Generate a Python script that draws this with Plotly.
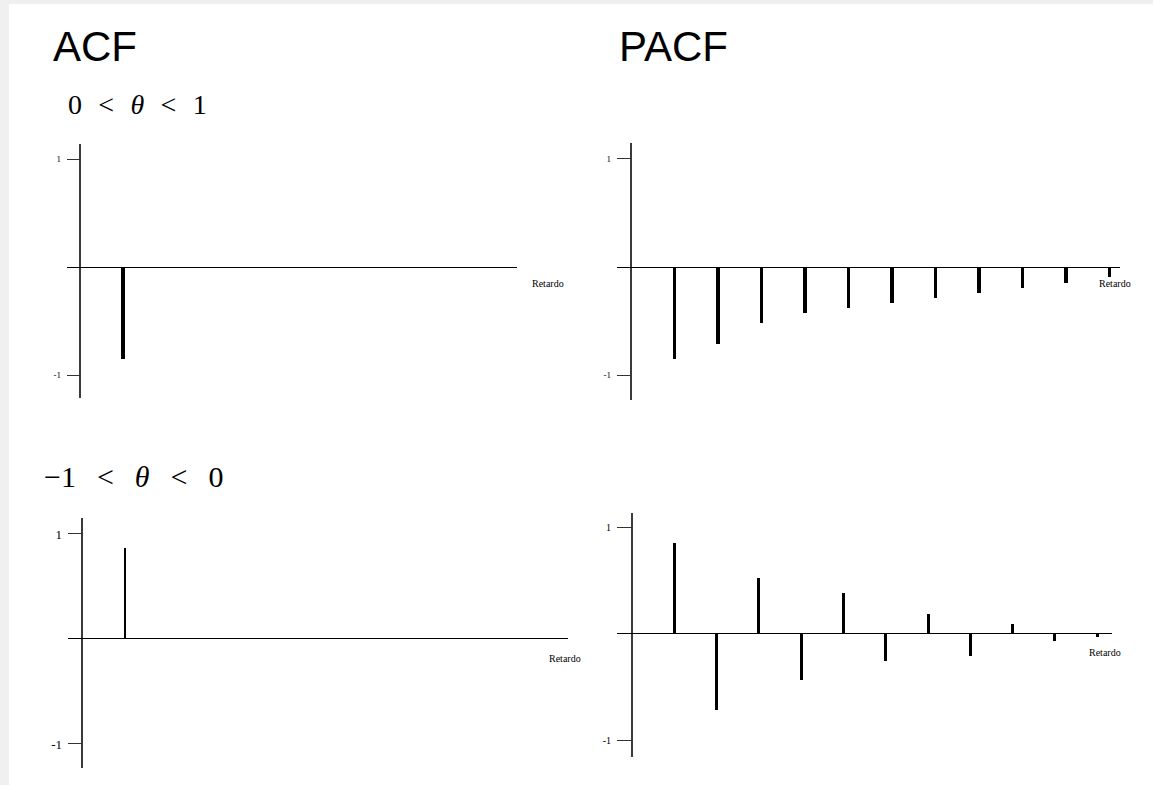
import plotly.graph_objects as go

W, H = 1153, 785

# ---- data ----
lags_a = [1]
acf_pos_theta = [-0.85]          # ACF, 0 < theta < 1
lags_b = [1, 2, 3, 4, 5, 6, 7, 8, 9, 10, 11]
pacf_pos_theta = [-0.85, -0.71, -0.52, -0.43, -0.38, -0.33, -0.29, -0.24, -0.19, -0.15, -0.09]
lags_c = [1]
acf_neg_theta = [0.87]           # ACF, -1 < theta < 0
lags_d = [1, 2, 3, 4, 5, 6, 7, 8, 9, 10, 11]
pacf_neg_theta = [0.85, -0.71, 0.52, -0.43, 0.38, -0.25, 0.19, -0.21, 0.09, -0.07, -0.03]

y_tickvals = [-1, 1]
y_ticktext = ["-1", "1"]
col_titles = ["ACF", "PACF"]
row_titles = ["0\u2002\u200a<\u2002\u200a<i>θ</i>\u2002\u200a<\u2002\u200a1",
              "\u22121\u2002\u2009<\u2002\u2009<i>θ</i>\u2002\u2009<\u2002\u20090"]
axis_label = "Retardo"


def fx(px):
    return px / W


def fy(py):
    return 1 - py / H


fig = go.Figure()

# panel geometry (pixels): x domain, y domain, x range, y range, bar width, tick len, tick font size
panels = [
    dict(x=lags_a, y=acf_pos_theta, xd=(67, 517), yd=(144, 398), xr=(-0.30, 10.165), yr=(-1.213, 1.139),
         bw=0.075, tl=13, fs=9, lab=(548, 284)),
    dict(x=lags_b, y=pacf_pos_theta, xd=(617, 1120), yd=(143, 400), xr=(-0.322, 11.24), yr=(-1.231, 1.148),
         bw=0.075, tl=14, fs=9, lab=(1115, 284)),
    dict(x=lags_c, y=acf_neg_theta, xd=(68, 568), yd=(518, 768), xr=(-0.326, 11.302), yr=(-1.229, 1.152),
         bw=0.04, tl=14, fs=13, lab=(565, 658)),
    dict(x=lags_d, y=pacf_neg_theta, xd=(617, 1112), yd=(513, 757), xr=(-0.355, 11.35), yr=(-1.15, 1.131),
         bw=0.07, tl=15, fs=10, lab=(1105, 652)),
]

annotations = []
for i, p in enumerate(panels, start=1):
    xa = "x" if i == 1 else f"x{i}"
    ya = "y" if i == 1 else f"y{i}"
    fig.add_trace(go.Bar(x=p["x"], y=p["y"], xaxis=xa, yaxis=ya, width=p["bw"],
                         marker=dict(color="black", line=dict(width=0)), showlegend=False,
                         hoverinfo="x+y"))
    xk = "xaxis" if i == 1 else f"xaxis{i}"
    yk = "yaxis" if i == 1 else f"yaxis{i}"
    fig.layout[xk] = dict(domain=[fx(p["xd"][0]), fx(p["xd"][1])], range=list(p["xr"]),
                          anchor=ya, showgrid=False, showline=False, showticklabels=False,
                          ticks="", zeroline=True, zerolinecolor="#3a3a3a", zerolinewidth=1.5,
                          fixedrange=True)
    fig.layout[yk] = dict(domain=[fy(p["yd"][1]), fy(p["yd"][0])], range=list(p["yr"]),
                          anchor=xa, showgrid=False, showline=False,
                          tickmode="array", tickvals=y_tickvals, ticktext=y_ticktext,
                          ticks="inside", ticklen=p["tl"], tickwidth=1, tickcolor="#333333",
                          ticklabelstandoff=5,
                          tickfont=dict(family="Liberation Serif, Times New Roman, serif",
                                        size=p["fs"], color="black"),
                          zeroline=True, zerolinecolor="black", zerolinewidth=1.3,
                          fixedrange=True)
    annotations.append(dict(text=axis_label, x=fx(p["lab"][0]), y=fy(p["lab"][1]),
                            xref="paper", yref="paper", xanchor="center", yanchor="middle",
                            showarrow=False,
                            font=dict(family="Liberation Serif, Times New Roman, serif",
                                      size=10, color="black")))

# column titles
for t, px in zip(col_titles, [51, 617]):
    annotations.append(dict(text=t, x=fx(px), y=fy(47), xref="paper", yref="paper",
                            xanchor="left", yanchor="middle", showarrow=False,
                            font=dict(family="Liberation Sans, Arial, sans-serif", size=42,
                                      color="black")))

# row labels
for t, px, py, fs in zip(row_titles, [66, 42], [105, 476], [28, 30]):
    annotations.append(dict(text=t, x=fx(px), y=fy(py), xref="paper", yref="paper",
                            xanchor="left", yanchor="middle", showarrow=False,
                            font=dict(family="Liberation Serif, Times New Roman, serif", size=fs,
                                      color="black")))

shapes = [
    dict(type="rect", xref="paper", yref="paper", x0=0, x1=fx(9), y0=0, y1=1,
         fillcolor="#f0f0f0", line=dict(width=0), layer="below"),
    dict(type="rect", xref="paper", yref="paper", x0=0, x1=1, y0=fy(4), y1=1,
         fillcolor="#f0f0f0", line=dict(width=0), layer="below"),
]

fig.update_layout(width=W, height=H, margin=dict(l=0, r=0, t=0, b=0),
                  paper_bgcolor="white", plot_bgcolor="rgba(0,0,0,0)",
                  annotations=annotations, shapes=shapes, bargap=0)

fig.write_html("out.html", config={"displayModeBar": False},
               post_script="document.body.style.margin='0px';document.body.style.overflow='hidden';")
